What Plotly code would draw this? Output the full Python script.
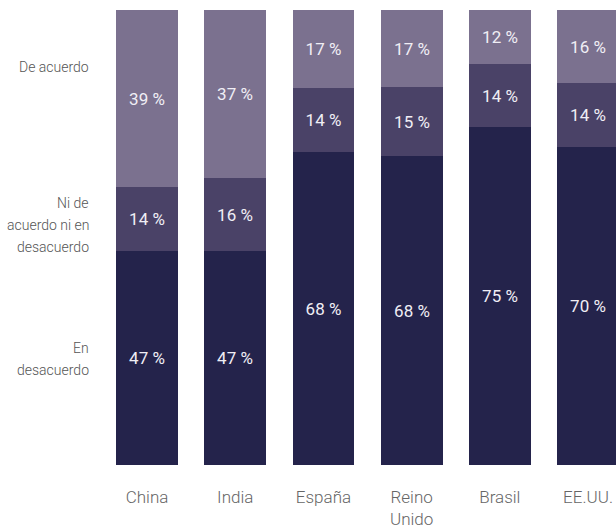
import plotly.graph_objects as go

categories = ["China", "India", "España", "Reino<br>Unido", "Brasil", "EE.UU."]
en_desacuerdo = [47, 47, 68, 68, 75, 70]
ni_ni = [14, 16, 14, 15, 14, 14]
de_acuerdo = [39, 37, 17, 17, 12, 16]

series = [
    ("En desacuerdo", en_desacuerdo, "#24234B"),
    ("Ni de acuerdo ni en desacuerdo", ni_ni, "#4A4267"),
    ("De acuerdo", de_acuerdo, "#7B718F"),
]

FONT = "Roboto"

fig = go.Figure()
for name, vals, color in series:
    fig.add_trace(go.Bar(
        x=categories, y=vals, name=name,
        customdata=vals,
        marker=dict(color=color, line=dict(width=0)),
        width=0.70,
        texttemplate="%{customdata} %",
        textposition="inside",
        insidetextanchor="middle",
        textangle=0,
        constraintext="none",
        textfont=dict(family=FONT, size=17, color="#F0EEF5", weight=400),
        hoverinfo="skip",
    ))

fig.update_layout(
    barmode="stack",
    barnorm="percent",
    width=616, height=528,
    margin=dict(l=0, r=0, t=10, b=63),
    paper_bgcolor="white", plot_bgcolor="white",
    showlegend=False,
    bargap=0,
    font=dict(family=FONT),
)
fig.update_xaxes(
    range=[-1.667, 5.317],
    showgrid=False, zeroline=False, showline=False, ticks="",
    tickfont=dict(family=FONT, size=17, color="#666666", weight=300),
    ticklabelstandoff=20,
)
fig.update_yaxes(range=[0, 100], visible=False)

# left-hand row labels (one annotation per line, pixel centres)
left_lines = [
    ("De acuerdo", 67),
    ("Ni de", 203),
    ("acuerdo ni en", 225),
    ("desacuerdo", 247),
    ("En", 348),
    ("desacuerdo", 370),
]
for text, ypx in left_lines:
    fig.add_annotation(
        text=text, xref="paper", yref="paper",
        x=91 / 616, y=(465 - ypx) / 455,
        xanchor="right", yanchor="middle", align="right",
        showarrow=False,
        font=dict(family=FONT, size=14, color="#555555", weight=300),
    )

fig.write_html("out.html")
